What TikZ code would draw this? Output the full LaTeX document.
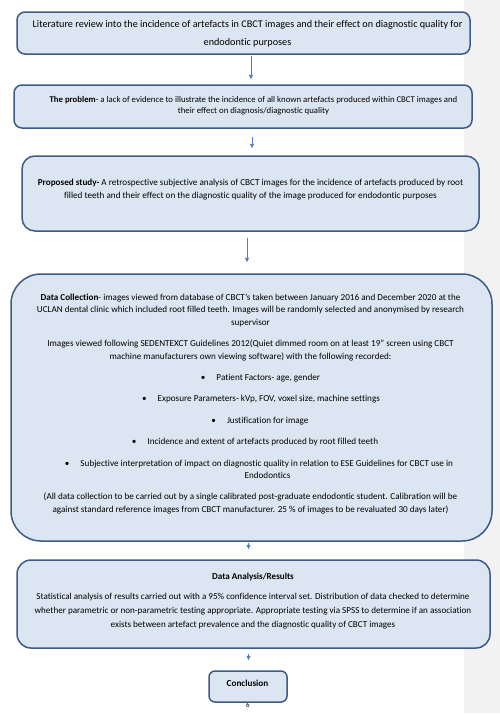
\documentclass[tikz,border=0pt]{standalone}
\usepackage{fontspec}
\setmainfont{Carlito}[Ligatures={NoCommon}]
\usetikzlibrary{arrows.meta}
\definecolor{boxfill}{HTML}{DCE6F2}
\definecolor{boxline}{HTML}{3E5A86}
\definecolor{arrcol}{HTML}{4F81BD}
\definecolor{panelgrey}{HTML}{F2F2F2}
\newcommand{\bul}{\textbullet\hspace{11pt}}
\begin{document}
\begin{tikzpicture}[x=1pt,y=-1pt,
  box/.style={draw=boxline, line width=1.5pt, fill=boxfill, inner sep=0pt},
  txt/.style={align=center, inner sep=0pt, text=black},
  arr/.style={draw=arrcol, line width=0.8pt, -{Triangle[length=4.5pt,width=4pt]}}]
\useasboundingbox (0,0) rectangle (500,715);
\fill[white] (0,0) rectangle (500,715);
\node (panel) [fill=panelgrey, minimum width=36pt, minimum height=713pt, inner sep=0pt, anchor=north west] at (464,0) {};
% page number
\node (pnum) [txt, font=\fontsize{7}{8}\selectfont] at (248,705) {6};
% boxes
\node (b1) [box, rounded corners=8pt, minimum width=453pt, minimum height=42pt] at (243.5,33) {};
\node (b2) [box, rounded corners=8pt, minimum width=458pt, minimum height=43pt] at (243,106.5) {};
\node (b3) [box, rounded corners=13pt, minimum width=457pt, minimum height=75pt] at (250.5,193.5) {};
\node (b4) [box, rounded corners=30pt, minimum width=481pt, minimum height=267pt] at (251.5,407.5) {};
\node (b5) [box, rounded corners=14pt, minimum width=473pt, minimum height=88pt] at (253.5,604) {};
\node (b6) [box, rounded corners=6pt, minimum width=78pt, minimum height=31pt] at (248,686.5) {};
% texts
\node (t1) [txt, font=\fontsize{10.2}{18}\selectfont] at (247.5,34) {Literature review into the incidence of artefacts in CBCT images and their effect on diagnostic quality for\\endodontic purposes};
\node (t2) [txt, font=\fontsize{8.75}{11.5}\selectfont] at (253.5,105.5) {\textbf{The problem}- a lack of evidence to illustrate the incidence of all known artefacts produced within CBCT images and\\their effect on diagnosis/diagnostic quality};
\node (t3) [txt, font=\fontsize{9.15}{13}\selectfont] at (250.5,189.5) {\textbf{Proposed study-} A retrospective subjective analysis of CBCT images for the incidence of artefacts produced by root\\filled teeth and their effect on the diagnostic quality of the image produced for endodontic purposes};
\node (t4) [txt, font=\fontsize{9.15}{12.4}\selectfont] at (250.5,404) {\textbf{Data Collection}- images viewed from database of CBCT’s taken between January 2016 and December 2020 at the\\
UCLAN dental clinic which included root filled teeth. Images will be randomly selected and anonymised by research\\
supervisor\\[9pt]
Images viewed following SEDENTEXCT Guidelines 2012(Quiet dimmed room on at least 19” screen using CBCT\\
machine manufacturers own viewing software) with the following recorded:\\[9pt]
\hspace*{20pt}\bul Patient Factors- age, gender\\[9pt]
\hspace*{21pt}\bul Exposure Parameters- kVp, FOV, voxel size, machine settings\\[9pt]
\hspace*{19pt}\bul Justification for image\\[9pt]
\hspace*{9pt}\bul Incidence and extent of artefacts produced by root filled teeth\\[9pt]
\hspace*{17pt}\bul Subjective interpretation of impact on diagnostic quality in relation to ESE Guidelines for CBCT use in\\
\hspace*{34pt}Endodontics\\[9pt]
(All data collection to be carried out by a single calibrated post-graduate endodontic student. Calibration will be\\
against standard reference images from CBCT manufacturer. 25 \% of images to be revaluated 30 days later)};
\node (t5) [txt, font=\fontsize{9.1}{14}\selectfont] at (253,601) {\textbf{Data Analysis/Results}\\[6pt]
Statistical analysis of results carried out with a 95\% confidence interval set. Distribution of data checked to determine\\
whether parametric or non-parametric testing appropriate. Appropriate testing via SPSS to determine if an association\\
exists between artefact prevalence and the diagnostic quality of CBCT images};
\node (t6) [txt, font=\fontsize{9.2}{11}\bfseries] at (247.5,683) {Conclusion};
% arrows
\draw[arr, shorten <=1pt, shorten >=5pt] (b1.south -| 251,0) -- (b2.north -| 251,0);
\draw[arr, shorten <=8pt, shorten >=7pt] (b2.south -| 252,0) -- (b3.north -| 252,0);
\draw[arr, shorten <=6pt, shorten >=11pt] (b3.south -| 247,0) -- (b4.north -| 247,0);
\draw[arr, shorten <=1pt, shorten >=10pt] (b4.south -| 248.5,0) -- (b5.north -| 248.5,0);
\draw[arr, shorten <=5pt, shorten >=10pt] (b5.south -| 248.5,0) -- (b6.north -| 248.5,0);
\end{tikzpicture}
\end{document}
